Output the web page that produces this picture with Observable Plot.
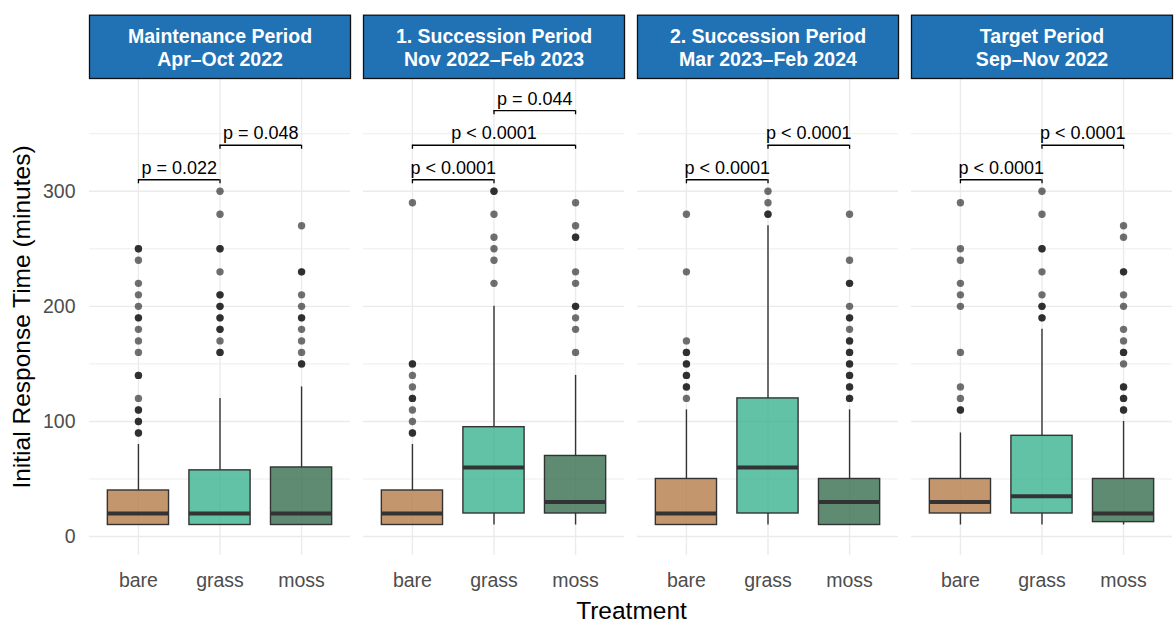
<!DOCTYPE html>
<html>
<head>
<meta charset="utf-8">
<script src="https://cdn.jsdelivr.net/npm/d3@7"></script>
<script src="https://cdn.jsdelivr.net/npm/@observablehq/plot@0.6"></script>
<style>
  html, body { margin: 0; padding: 0; background: #ffffff; }
  #chart svg { display: block; }
</style>
</head>
<body>
<div id="chart"></div>
<script>
// ---------- data ----------
const periods = [
  "Maintenance Period\nApr–Oct 2022",
  "1. Succession Period\nNov 2022–Feb 2023",
  "2. Succession Period\nMar 2023–Feb 2024",
  "Target Period\nSep–Nov 2022"
];
const treatments = ["bare", "grass", "moss"];
const treatmentColors = ["#b57c4a", "#3bb390", "#376e50"];

// box statistics, one row per period, columns = bare, grass, moss
const lowerWhisker = [[10, 10, 10], [10, 10, 10], [10, 10, 10], [10, 10, 10]];
const q1Values     = [[10, 10, 10], [10, 20, 20], [10, 20, 10], [20, 20, 12.5]];
const medianValues = [[20, 20, 20], [20, 60, 30], [20, 60, 30], [30, 35, 20]];
const q3Values     = [[40, 57.5, 60], [40, 95, 70], [50, 120, 50], [50, 87.5, 50]];
const upperWhisker = [[80, 120, 130], [80, 200, 140], [110, 270, 110], [90, 180, 100]];

// outliers (repeated values = overlapping points)
const outliers = [
  [
    [250, 250, 240, 220, 210, 200, 190, 190, 180, 170, 160, 140, 140, 120, 110, 110, 100, 100, 90, 90],
    [300, 280, 250, 250, 230, 210, 210, 200, 200, 190, 190, 180, 180, 170, 160, 160],
    [270, 230, 230, 210, 200, 190, 190, 180, 170, 160, 150, 150]
  ],
  [
    [290, 150, 150, 140, 130, 120, 120, 110, 100, 90, 90],
    [300, 300, 280, 260, 250, 240, 220],
    [290, 270, 260, 260, 230, 220, 200, 200, 190, 180, 160]
  ],
  [
    [280, 230, 170, 160, 160, 150, 150, 140, 140, 130, 130, 120],
    [300, 290, 280, 280],
    [280, 240, 220, 220, 200, 190, 190, 180, 170, 170, 160, 160, 150, 150, 140, 140, 130, 130, 120, 120]
  ],
  [
    [290, 250, 240, 220, 210, 200, 160, 130, 120, 110, 110],
    [300, 280, 250, 250, 230, 210, 200, 200, 190, 190],
    [270, 260, 230, 230, 210, 200, 180, 170, 160, 160, 150, 130, 130, 120, 120, 110, 110]
  ]
];

// significance brackets
const bracketPeriod = [0, 0, 1, 1, 1, 2, 2, 3, 3];
const bracketFrom   = ["bare", "grass", "bare", "bare", "grass", "bare", "grass", "bare", "grass"];
const bracketTo     = ["grass", "moss", "grass", "moss", "moss", "grass", "moss", "grass", "moss"];
const bracketY      = [310, 340, 310, 340, 370, 310, 340, 310, 340];
const bracketLabel  = ["p = 0.022", "p = 0.048", "p < 0.0001", "p < 0.0001", "p = 0.044",
                       "p < 0.0001", "p < 0.0001", "p < 0.0001", "p < 0.0001"];

const yTicks = [0, 100, 200, 300];
const yMinorGrid = [50, 150, 250, 350];
const yLabel = "Initial Response Time (minutes)";
const xLabel = "Treatment";

// ---------- tables ----------
const boxes = [];
periods.forEach((p, i) => treatments.forEach((t, j) => boxes.push({
  period: p, treatment: t, xi: j + 1,
  low: lowerWhisker[i][j], q1: q1Values[i][j], med: medianValues[i][j],
  q3: q3Values[i][j], high: upperWhisker[i][j]
})));

const outlierRows = [];
periods.forEach((p, i) => treatments.forEach((t, j) =>
  outliers[i][j].forEach(v => outlierRows.push({period: p, treatment: t, xi: j + 1, value: v}))));

const brackets = bracketPeriod.map((pi, k) => ({
  period: periods[pi],
  a: treatments.indexOf(bracketFrom[k]) + 1,
  b: treatments.indexOf(bracketTo[k]) + 1,
  y: bracketY[k],
  label: bracketLabel[k]
}));
const tip = 3.5;
const boxHalf = 0.375;

const font = "'Liberation Sans', Arial, sans-serif";

const chart = Plot.plot({
  width: 1174,
  height: 624,
  marginLeft: 89,
  marginRight: 2,
  marginTop: 78,
  marginBottom: 69,
  style: {fontFamily: font, fontSize: "19.5px", background: "#ffffff"},
  fx: {domain: periods, padding: 0.0474, axis: null, label: null, round: false},
  x: {domain: [0.4, 3.6], label: null},
  y: {domain: [-16.5, 398], label: null},
  color: {domain: treatments, range: treatmentColors},
  marks: [
    // grid
    Plot.ruleY(yMinorGrid, {stroke: "#ebebeb", strokeWidth: 0.9}),
    Plot.ruleY(yTicks, {stroke: "#ebebeb", strokeWidth: 1.4}),
    Plot.ruleX([1, 2, 3], {stroke: "#ebebeb", strokeWidth: 1.4}),
    // strip headers
    Plot.frame({fill: "#2171b5", stroke: "#111111", strokeWidth: 1.3, insetTop: -63.3, insetBottom: 477}),
    Plot.text(periods, {fx: d => d, text: d => d, frameAnchor: "top", dy: -31.7,
      lineAnchor: "middle", lineHeight: 1.18, fill: "white", fontWeight: "bold", fontSize: 19.5}),
    // axes
    Plot.axisY({ticks: yTicks, tickSize: 0, tickPadding: 14, color: "#4d4d4d", label: null}),
    Plot.axisX({ticks: [1, 2, 3], tickFormat: d => treatments[d - 1], tickSize: 0, tickPadding: 18,
      color: "#4d4d4d", label: null}),
    // whiskers
    Plot.ruleX(boxes, {fx: "period", x: "xi", y1: "q3", y2: "high", stroke: "#333333", strokeWidth: 1.4}),
    Plot.ruleX(boxes, {fx: "period", x: "xi", y1: "low", y2: "q1", stroke: "#333333", strokeWidth: 1.4}),
    // boxes
    Plot.rect(boxes, {fx: "period", x1: d => d.xi - boxHalf, x2: d => d.xi + boxHalf, y1: "q1", y2: "q3",
      fill: "treatment", fillOpacity: 0.8, stroke: "#333333", strokeWidth: 1.4}),
    Plot.ruleY(boxes, {fx: "period", y: "med", x1: d => d.xi - boxHalf, x2: d => d.xi + boxHalf,
      stroke: "#333333", strokeWidth: 4}),
    // outliers
    Plot.dot(outlierRows, {fx: "period", x: "xi", y: "value", r: 3.7, fill: "black", fillOpacity: 0.56, stroke: null}),
    // significance brackets
    Plot.ruleY(brackets, {fx: "period", y: "y", x1: "a", x2: "b", stroke: "black", strokeWidth: 1.3}),
    Plot.ruleX(brackets, {fx: "period", x: "a", y1: "y", y2: d => d.y - tip, stroke: "black", strokeWidth: 1.3}),
    Plot.ruleX(brackets, {fx: "period", x: "b", y1: "y", y2: d => d.y - tip, stroke: "black", strokeWidth: 1.3}),
    Plot.text(brackets, {fx: "period", x: d => (d.a + d.b) / 2, y: "y", text: "label", dy: -6,
      lineAnchor: "bottom", fill: "black", fontSize: 18}),
    // axis titles
    Plot.text([yLabel], {fx: [periods[0]], text: d => d, frameAnchor: "left", rotate: -90, dx: -67,
      textAnchor: "middle", lineAnchor: "middle", fill: "black", fontSize: 24.5}),
    Plot.text([xLabel], {fx: [periods[1]], text: d => d, frameAnchor: "bottom-right", dx: 7, dy: 56,
      textAnchor: "middle", lineAnchor: "middle", fill: "black", fontSize: 24.5})
  ]
});
document.getElementById("chart").append(chart);
</script>
</body>
</html>
